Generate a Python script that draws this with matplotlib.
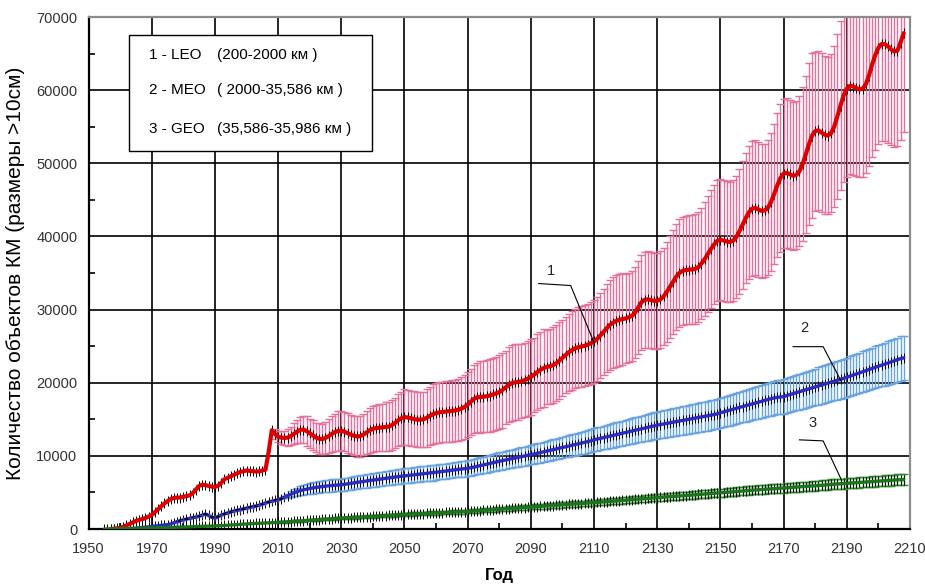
import numpy as np
import matplotlib
matplotlib.use("Agg")
import matplotlib.pyplot as plt
from matplotlib.patches import Rectangle
from matplotlib.ticker import MultipleLocator, FixedLocator

plt.rcParams['font.family'] = ['Liberation Sans', 'DejaVu Sans']

# ---- yearly counts of tracked objects (>10 cm) per orbit region ----
leo_start = 1957
leo_counts = [
    0, 50, 100,
    150, 300, 500, 700, 900, 1100, 1250, 1350, 1500, 1700,
    1900, 2300, 2700, 3100, 3500, 3800, 4100, 4250, 4300, 4300,
    4400, 4500, 4600, 4900, 5400, 5900, 6050, 6000, 5900, 5800,
    5750, 5900, 6300, 6800, 7000, 7200, 7400, 7600, 7800, 7900,
    8000, 7950, 7900, 7850, 7900, 8000, 8100, 10500, 13500, 13000,
    12600, 12500, 12450, 12500, 12700, 13000, 13300, 13550, 13600, 13400,
    13100, 12800, 12500, 12350, 12300, 12450, 12700, 13000, 13250, 13400,
    13450, 13300, 13100, 12900, 12750, 12650, 12700, 12900, 13200, 13500,
    13700, 13800, 13850, 13900, 13950, 14000, 14200, 14500, 14850, 15150,
    15300, 15250, 15150, 15050, 14950, 14950, 15000, 15200, 15450, 15700,
    15850, 15950, 16000, 16050, 16100, 16150, 16200, 16300, 16450, 16700,
    17000, 17400, 17800, 18000, 18050, 18100, 18150, 18250, 18400, 18550,
    18700, 19000, 19350, 19700, 19950, 20050, 20100, 20200, 20350, 20550,
    20800, 21100, 21450, 21750, 22000, 22150, 22250, 22400, 22650, 23000,
    23400, 23800, 24150, 24450, 24700, 24850, 24950, 25050, 25200, 25400,
    25650, 26000, 26450, 26950, 27450, 27900, 28200, 28450, 28600, 28700,
    28800, 28950, 29150, 29600, 30300, 31000, 31350, 31400, 31300, 31200,
    31200, 31400, 31800, 32400, 33100, 33800, 34500, 35000, 35300, 35400,
    35450, 35500, 35550, 35800, 36300, 36900, 37600, 38300, 38900, 39400,
    39550, 39450, 39300, 39250, 39400, 39900, 40700, 41600, 42500, 43300,
    43800, 43900, 43700, 43500, 43550, 43900, 44700, 45800, 47000, 48000,
    48600, 48700, 48500, 48300, 48400, 48900, 49900, 51200, 52600, 53800,
    54400, 54500, 54200, 53900, 53800, 54100, 55000, 56400, 57900, 59300,
    60200, 60600, 60500, 60300, 60100, 60200, 60800, 62000, 63500, 64800,
    65800, 66300, 66300, 66000, 65600, 65300, 65400, 66500, 67800,
]
# forecast spread, % of the count, from 2009 on
leo_err_start = 2009
leo_err_pct = [
    5,
    6, 7, 8, 9, 10, 11, 12, 13, 14, 15,
    15, 16, 16, 17, 17, 18, 18, 19, 19, 20,
    20, 20, 21, 21, 21, 22, 22, 22, 22, 23,
    23, 23, 23, 23, 24, 24, 24, 24, 24, 24,
    25, 25, 25, 25, 25, 25, 25, 26, 26, 26,
    26, 26, 26, 26, 26, 26, 26, 26, 26, 26,
    26, 26, 26, 26, 27, 27, 27, 27, 27, 27,
    27, 27, 26, 26, 26, 26, 26, 25, 25, 25,
    25, 24, 24, 24, 24, 23, 23, 23, 23, 23,
    22, 22, 22, 22, 22, 22, 22, 22, 22, 22,
    22, 22, 22, 22, 22, 22, 22, 22, 22, 22,
    21, 21, 21, 21, 21, 21, 21, 21, 21, 21,
    21, 21, 21, 21, 21, 21, 21, 21, 21, 21,
    21, 21, 21, 21, 21, 21, 21, 21, 21, 21,
    21, 21, 21, 21, 21, 21, 21, 21, 21, 21,
    21, 21, 21, 21, 21, 21, 21, 21, 21, 21,
    21, 21, 21, 21, 21, 21, 21, 21, 21, 21,
    20, 20, 20, 20, 20, 20, 20, 20, 20, 20,
    20, 20, 20, 20, 20, 20, 20, 20, 20, 20,
    20, 20, 20, 20, 20, 20, 20, 20, 20,
]

meo_start = 1963
meo_counts = [
    0, 50, 100, 150, 200, 250, 300,
    350, 400, 450, 500, 550, 600, 700, 850, 1000, 1150,
    1250, 1350, 1450, 1550, 1650, 1750, 1900, 2050, 1850, 1600,
    1500, 1700, 1900, 2050, 2200, 2350, 2450, 2550, 2650, 2750,
    2850, 2950, 3050, 3150, 3250, 3400, 3550, 3700, 3800, 3900,
    4000, 4150, 4350, 4550, 4750, 4950, 5100, 5250, 5350, 5450,
    5550, 5620, 5690, 5750, 5810, 5860, 5910, 5950, 5990, 6020,
    6050, 6110, 6170, 6240, 6310, 6380, 6450, 6510, 6570, 6630,
    6690, 6750, 6810, 6870, 6930, 6990, 7050, 7110, 7160, 7210,
    7260, 7310, 7360, 7410, 7460, 7510, 7560, 7610, 7660, 7710,
    7760, 7810, 7860, 7920, 7980, 8040, 8100, 8150, 8200, 8250,
    8300, 8380, 8470, 8570, 8670, 8770, 8870, 8970, 9070, 9170,
    9260, 9350, 9440, 9530, 9620, 9710, 9800, 9890, 9980, 10070,
    10150, 10250, 10350, 10450, 10550, 10650, 10750, 10850, 10950, 11050,
    11150, 11250, 11350, 11450, 11550, 11650, 11750, 11850, 11950, 12050,
    12200, 12300, 12400, 12500, 12600, 12700, 12800, 12900, 13000, 13100,
    13200, 13300, 13400, 13500, 13600, 13700, 13800, 13900, 14000, 14100,
    14200, 14280, 14360, 14440, 14520, 14600, 14680, 14760, 14840, 14920,
    15000, 15080, 15160, 15240, 15320, 15400, 15480, 15560, 15650, 15750,
    15900, 16020, 16140, 16260, 16380, 16500, 16620, 16740, 16860, 16980,
    17100, 17220, 17340, 17460, 17580, 17700, 17820, 17920, 18000, 18050,
    18100, 18250, 18380, 18510, 18640, 18770, 18900, 19030, 19160, 19290,
    19420, 19550, 19680, 19810, 19940, 20070, 20200, 20330, 20450, 20600,
    20750, 20900, 21050, 21200, 21350, 21500, 21650, 21800, 21950, 22100,
    22250, 22400, 22550, 22700, 22850, 23000, 23150, 23300, 23400,
]
meo_err_start = 2012
meo_err_pct = [
    4, 6, 8, 10, 11, 12, 13, 13,
    14, 14, 14, 14, 14, 14, 14, 14, 14, 14,
    14, 14, 14, 14, 14, 14, 14, 14, 14, 14,
    14, 14, 14, 14, 14, 14, 14, 14, 14, 14,
    14, 14, 14, 14, 14, 14, 14, 14, 14, 14,
    13, 13, 13, 13, 13, 13, 13, 13, 13, 13,
    13, 13, 13, 13, 13, 13, 13, 13, 13, 13,
    13, 13, 13, 13, 13, 13, 13, 13, 13, 13,
    13, 13, 13, 13, 13, 13, 13, 13, 13, 13,
    13, 13, 13, 13, 13, 13, 13, 13, 13, 13,
    13, 13, 13, 13, 13, 13, 13, 13, 13, 13,
    13, 13, 13, 13, 13, 13, 13, 13, 13, 13,
    13, 13, 13, 13, 13, 13, 13, 13, 13, 13,
    13, 13, 13, 13, 13, 13, 13, 13, 13, 13,
    13, 13, 13, 13, 13, 13, 13, 13, 13, 13,
    13, 13, 13, 13, 13, 13, 13, 13, 13, 13,
    13, 13, 13, 13, 13, 13, 13, 13, 13, 13,
    13, 13, 13, 13, 13, 13, 13, 13, 13, 13,
    13, 13, 13, 13, 13, 13, 13, 13, 13, 13,
    13, 13, 13, 13, 13, 13, 13, 13, 13,
]

geo_start = 1955
geo_counts = [
    0, 10, 20, 30, 40,
    50, 60, 70, 80, 100, 110, 120, 130, 140, 150,
    160, 170, 180, 190, 200, 210, 220, 230, 240, 250,
    265, 280, 295, 310, 325, 340, 355, 370, 385, 400,
    420, 440, 460, 490, 520, 550, 580, 610, 640, 670,
    700, 720, 740, 760, 780, 800, 820, 840, 860, 880,
    900, 930, 960, 990, 1020, 1050, 1080, 1110, 1140, 1170,
    1200, 1230, 1260, 1290, 1320, 1350, 1380, 1410, 1440, 1470,
    1500, 1520, 1540, 1560, 1580, 1600, 1625, 1650, 1675, 1700,
    1725, 1750, 1775, 1800, 1825, 1850, 1875, 1900, 1925, 1950,
    2000, 2020, 2040, 2060, 2080, 2100, 2120, 2140, 2160, 2180,
    2200, 2220, 2240, 2260, 2280, 2300, 2320, 2340, 2360, 2380,
    2400, 2430, 2460, 2490, 2520, 2550, 2580, 2610, 2640, 2670,
    2700, 2730, 2760, 2790, 2820, 2850, 2880, 2910, 2940, 2970,
    3000, 3030, 3060, 3090, 3120, 3150, 3180, 3210, 3240, 3270,
    3300, 3330, 3360, 3390, 3420, 3450, 3480, 3510, 3540, 3570,
    3600, 3635, 3670, 3705, 3740, 3775, 3810, 3845, 3880, 3915,
    3950, 3985, 4020, 4055, 4090, 4125, 4160, 4195, 4230, 4265,
    4300, 4330, 4360, 4390, 4420, 4450, 4480, 4510, 4540, 4570,
    4600, 4640, 4680, 4720, 4760, 4800, 4830, 4860, 4890, 4920,
    4950, 4980, 5010, 5040, 5080, 5120, 5160, 5200, 5240, 5280,
    5310, 5340, 5370, 5400, 5430, 5460, 5490, 5520, 5550, 5580,
    5600, 5630, 5660, 5690, 5720, 5750, 5780, 5810, 5840, 5870,
    5900, 5940, 5980, 6020, 6060, 6100, 6130, 6160, 6190, 6220,
    6250, 6280, 6310, 6340, 6370, 6400, 6430, 6460, 6490, 6520,
    6550, 6580, 6610, 6640, 6670, 6700, 6720, 6740, 6760,
]
geo_err_start = 2010
geo_err_pct = [
    11, 11, 11, 11, 11, 11, 11, 11, 11, 11,
    11, 11, 11, 11, 11, 11, 11, 11, 11, 11,
    11, 11, 11, 11, 11, 11, 11, 11, 11, 11,
    11, 11, 11, 11, 11, 11, 11, 11, 11, 11,
    11, 11, 11, 11, 11, 11, 11, 11, 11, 11,
    11, 11, 11, 11, 11, 11, 11, 11, 11, 11,
    11, 11, 11, 11, 11, 11, 11, 11, 11, 11,
    11, 11, 11, 11, 11, 11, 11, 11, 11, 11,
    11, 11, 11, 11, 11, 11, 11, 11, 11, 11,
    11, 11, 11, 11, 11, 11, 11, 11, 11, 11,
    11, 11, 11, 11, 11, 11, 11, 11, 11, 11,
    11, 11, 11, 11, 11, 11, 11, 11, 11, 11,
    11, 11, 11, 11, 11, 11, 11, 11, 11, 11,
    11, 11, 11, 11, 11, 11, 11, 11, 11, 11,
    11, 11, 11, 11, 11, 11, 11, 11, 11, 11,
    11, 11, 11, 11, 11, 11, 11, 11, 11, 11,
    11, 11, 11, 11, 11, 11, 11, 11, 11, 11,
    11, 11, 11, 11, 11, 11, 11, 11, 11, 11,
    11, 11, 11, 11, 11, 11, 11, 11, 11, 11,
    11, 11, 11, 11, 11, 11, 11, 11, 11,
]

year_ticks = [1950, 1970, 1990, 2010, 2030, 2050, 2070, 2090, 2110,
              2130, 2150, 2170, 2190, 2210]

legend_rows = [
    ("1 - LEO", "(200-2000 км )"),
    ("2 - MEO", "( 2000-35,586 км )"),
    ("3 - GEO", "(35,586-35,986 км )"),
]


def series(start, counts, err_start, err_pct):
    years = np.arange(start, start + len(counts))
    vals = np.array(counts, dtype=float)
    i0 = err_start - start
    ey = years[i0:]
    ev = vals[i0:]
    err = ev * np.array(err_pct, dtype=float) / 100.0
    return years, vals, ey, ev, err


fig = plt.figure(figsize=(9.25, 5.85), dpi=100)
ax = fig.add_axes([0.0957, 0.0957, 0.8881, 0.8752])

# error spreads go under the lines
styles = [
    (leo_start, leo_counts, leo_err_start, leo_err_pct, '#e6709d', '#dd0000', 3.0),
    (meo_start, meo_counts, meo_err_start, meo_err_pct, '#6aa4e0', '#2b2bc4', 2.4),
    (geo_start, geo_counts, geo_err_start, geo_err_pct, '#2a8a2a', '#1c741c', 2.4),
]
for start, counts, es, ep, ecol, lcol, lw in styles:
    years, vals, ey, ev, err = series(start, counts, es, ep)
    ax.errorbar(ey, ev, yerr=err, fmt='none', ecolor=ecol, elinewidth=1.0,
                capsize=3.0, capthick=1.0, zorder=2)

for start, counts, es, ep, ecol, lcol, lw in styles:
    years, vals, ey, ev, err = series(start, counts, es, ep)
    # yearly tick marks sit under the line and stick out on both sides
    ax.plot(years, vals, ls='none', marker='|', ms=7, mew=0.7,
            color='black', zorder=2.9)
    ax.plot(years, vals, color=lcol, lw=lw, zorder=3, solid_capstyle='round')
    if start == meo_start:
        # early MEO stretch drawn dark with blue crosses
        m = (years >= 1978) & (years <= 2012)
        ax.plot(years[m], vals[m], color='black', lw=1.6, zorder=3.5)
        ax.plot(years[m][::2], vals[m][::2], ls='none', marker='+', ms=5,
                mew=1.0, color='#3a3ac0', zorder=3.6)

ax.set_xlim(1950, 2210)
ax.set_ylim(0, 70000)
ax.xaxis.set_major_locator(FixedLocator(year_ticks))
ax.xaxis.set_minor_locator(MultipleLocator(20))
ax.yaxis.set_major_locator(MultipleLocator(10000))
ax.yaxis.set_minor_locator(MultipleLocator(5000))
ax.grid(True, which='major', color='black', lw=1.2)
ax.set_axisbelow(True)
ax.tick_params(which='major', length=0, labelsize=10.5, labelcolor='#333333')
ax.tick_params(axis='x', which='major', pad=9)
ax.tick_params(axis='y', which='major', pad=8)
ax.tick_params(which='minor', direction='in', length=4, width=1.2, color='black')

for side in ('left', 'bottom'):
    ax.spines[side].set_color('black')
    ax.spines[side].set_linewidth(1.6)
for side in ('top', 'right'):
    ax.spines[side].set_color('#8c8c8c')
    ax.spines[side].set_linewidth(1.6)

ax.set_xlabel('Год', fontsize=12, fontweight='bold', labelpad=9)
ax.set_ylabel('Количество объектов КМ (размеры >10см)', fontsize=15, labelpad=8)

# legend box
ax.add_patch(Rectangle((0.0493, 0.738), 0.2957, 0.227, transform=ax.transAxes,
                       facecolor='white', edgecolor='black', lw=1.0, zorder=5))
for (num, rng), yy in zip(legend_rows, (0.926, 0.857, 0.781)):
    ax.text(0.074, yy, num, transform=ax.transAxes, fontsize=11, va='center', zorder=6)
    ax.text(0.156, yy, rng, transform=ax.transAxes, fontsize=11, va='center', zorder=6)

# curve labels with leader lines
callouts = [
    ('1', (2096.3, 35300), [2092.5, 2102.6, 2110.0], [33560, 33290, 25480]),
    ('2', (2176.5, 27530), [2173.0, 2182.5, 2188.3], [24930, 24930, 20140]),
    ('3', (2179.0, 14520), [2175.0, 2182.5, 2188.3], [12190, 12050, 6710]),
]
for txt, (tx, ty), lx, ly in callouts:
    ax.text(tx, ty, txt, fontsize=10.5, ha='center', va='center', color='#222222', zorder=6)
    ax.plot(lx, ly, color='black', lw=0.8, zorder=6)

fig.savefig('out.png', dpi=100)
